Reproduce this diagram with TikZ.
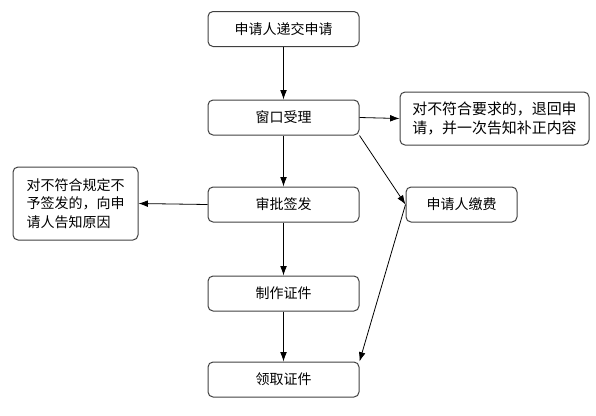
\documentclass[tikz,border=0pt]{standalone}
\usepackage{fontspec}
\setmainfont{Noto Sans CJK SC}
\usetikzlibrary{arrows.meta}
\tikzset{
  box/.style={draw=black!75, line width=0.75pt, rounded corners=3.75pt,
    minimum width=113.25pt, minimum height=26.25pt, inner sep=2pt,
    font=\fontsize{10.5}{13.7}\selectfont},
  note/.style={box, align=left},
  arr/.style={draw, line width=0.6pt, -{Latex[length=7pt,width=5pt]}}
}
\begin{document}
\begin{tikzpicture}[x=0.75pt,y=-0.75pt]
\useasboundingbox (0,0) rectangle (596,415);
\node[box] (submit) at (283.5,29) {申请人递交申请};
\node[box] (accept) at (283.5,117.5) {窗口受理};
\node[box] (approve) at (283.5,204.5) {审批签发};
\node[box] (make) at (283.5,293.5) {制作证件};
\node[box] (collect) at (283.5,379.5) {领取证件};
\node[note, minimum width=141.75pt, minimum height=39.75pt,
  font=\fontsize{11.2}{13.7}\selectfont] (return) at (494.5,118.5)
  {对不符合要求的，退回申\\请，并一次告知补正内容};
\node[note, minimum width=93.75pt, minimum height=54.75pt] (refuse) at (75.5,203.5)
  {对不符合规定不\\予签发的，向申\\请人告知原因};
\node[box, minimum width=83.25pt] (pay) at (461.5,204.5) {申请人缴费};
\path[arr] (submit) -- (accept);
\path[arr] (accept) -- (approve);
\path[arr] (approve) -- (make);
\path[arr] (make) -- (collect);
\path[arr] (accept.east) -- (return.west);
\path[arr] (approve.west) -- (refuse.east);
\path[arr] (accept.south east) -- (pay.west);
\path[arr] (pay.west) -- (collect.north east);
\end{tikzpicture}
\end{document}
